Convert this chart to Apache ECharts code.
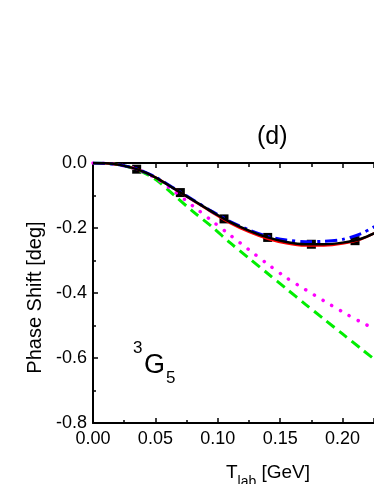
<!DOCTYPE html>
<html>
<head>
<meta charset="utf-8">
<script src="https://cdn.jsdelivr.net/npm/echarts@6/dist/echarts.min.js"></script>
<style>
  html, body { margin: 0; padding: 0; background: #fff; }
  #main { width: 374px; height: 484px; }
</style>
</head>
<body>
<div id="main"></div>
<script>
// energies [GeV] shared by the curves
var tlab = [0, 0.01, 0.02, 0.035, 0.05, 0.065, 0.08, 0.095, 0.11, 0.125, 0.14, 0.155, 0.17, 0.185, 0.2, 0.215, 0.23];

var black   = [0, -0.001, -0.005, -0.019, -0.044, -0.079, -0.114, -0.149, -0.182, -0.208, -0.229, -0.243, -0.250, -0.250, -0.245, -0.233, -0.208];
var red     = [0, -0.001, -0.005, -0.019, -0.044, -0.079, -0.115, -0.151, -0.185, -0.212, -0.233, -0.247, -0.254, -0.254, -0.248, -0.234, -0.207];
var blue    = [0, -0.001, -0.005, -0.018, -0.043, -0.078, -0.113, -0.148, -0.180, -0.206, -0.226, -0.237, -0.242, -0.241, -0.235, -0.217, -0.186];
var magenta = [0, -0.001, -0.005, -0.019, -0.046, -0.087, -0.132, -0.177, -0.222, -0.267, -0.311, -0.353, -0.389, -0.424, -0.458, -0.490, -0.518];
var green   = [0, -0.001, -0.005, -0.020, -0.050, -0.099, -0.149, -0.195, -0.246, -0.293, -0.340, -0.387, -0.434, -0.480, -0.526, -0.572, -0.618];

// square markers (PWA points)
var markT = [0.035, 0.07, 0.105, 0.14, 0.175, 0.21];
var markV = [-0.019, -0.091, -0.172, -0.229, -0.250, -0.239];

var xTicks = [0, 0.05, 0.1, 0.15, 0.2];
var yTicks = [0, -0.2, -0.4, -0.6, -0.8];

function pairs(xs, ys) {
    return xs.map(function (x, i) { return [x, ys[i]]; });
}

var font = 'Liberation Sans, Arial, sans-serif';
var axisLine = { show: true, onZero: false, lineStyle: { color: '#000', width: 2 } };
var tick = { inside: true, length: 5, lineStyle: { color: '#000', width: 1.5 } };

var myChart = echarts.init(document.getElementById('main'));

var option = {
    animation: false,
    backgroundColor: '#fff',
    title: {
        text: '(d)',
        left: 252,
        top: 120,
        textStyle: { fontFamily: font, fontSize: 25, fontWeight: 'normal', color: '#000' }
    },
    grid: { left: 93, top: 163, right: 0, bottom: 61, containLabel: false, outerBoundsMode: 'none' },
    xAxis: [{
        type: 'value',
        position: 'bottom',
        min: 0,
        max: 0.2252,
        interval: 0.05,
        axisLine: axisLine,
        axisTick: tick,
        minorTick: { show: true, splitNumber: 2, length: 3, lineStyle: { color: '#000', width: 1.5 } },
        splitLine: { show: false },
        axisLabel: {
            showMaxLabel: false,
            margin: 7,
            fontFamily: font, fontSize: 18, color: '#000',
            formatter: function (v) { return xTicks.indexOf(+v.toFixed(3)) >= 0 ? v.toFixed(2) : ''; }
        },
        name: '{n|T}{s|lab}{n| [GeV]}',
        nameLocation: 'middle',
        nameGap: 40,
        nameTextStyle: {
            padding: [0, 0, 0, 69],
            rich: {
                n: { fontFamily: font, fontSize: 19, color: '#000', lineHeight: 26, verticalAlign: 'top' },
                s: { fontFamily: font, fontSize: 14, color: '#000', lineHeight: 26, verticalAlign: 'bottom', padding: [10, 0, 0, 0] }
            }
        }
    }, {
        type: 'value',
        position: 'top',
        min: 0,
        max: 0.2252,
        interval: 0.05,
        axisLine: axisLine,
        axisTick: tick,
        minorTick: { show: true, splitNumber: 2, length: 4, lineStyle: { color: '#000', width: 1.5 } },
        splitLine: { show: false },
        axisLabel: { show: false }
    }],
    yAxis: {
        type: 'value',
        min: -0.8,
        max: 0,
        interval: 0.2,
        axisLine: axisLine,
        axisTick: tick,
        minorTick: { show: true, splitNumber: 2, length: 3, lineStyle: { color: '#000', width: 1.5 } },
        splitLine: { show: false },
        axisLabel: {
            margin: 6,
            fontFamily: font, fontSize: 18, color: '#000',
            formatter: function (v) { return v.toFixed(1); }
        },
        name: 'Phase Shift [deg]',
        nameLocation: 'middle',
        nameGap: 48,
        nameTextStyle: { fontFamily: font, fontSize: 20, color: '#000', padding: [0, 9, 0, 0] }
    },
    // 3G5 partial-wave label
    graphic: [
        { type: 'text', left: 133, top: 340, style: { text: '3', fontFamily: font, fontSize: 17, fill: '#000' } },
        { type: 'text', left: 144, top: 352, style: { text: 'G', fontFamily: font, fontSize: 27, fill: '#000' } },
        { type: 'text', left: 166, top: 370, style: { text: '5', fontFamily: font, fontSize: 17, fill: '#000' } }
    ],
    series: [{
        type: 'line',
        data: pairs(tlab, green),
        smooth: 0.3,
        showSymbol: false,
        lineStyle: { color: '#00ee00', width: 3, type: [10, 6] }
    }, {
        type: 'line',
        data: pairs(tlab, magenta),
        smooth: 0.3,
        showSymbol: false,
        lineStyle: { color: '#ff00ff', width: 3.5, type: [0.1, 10], cap: 'round' }
    }, {
        type: 'line',
        data: pairs(tlab, red),
        smooth: 0.3,
        showSymbol: false,
        lineStyle: { color: '#ff0000', width: 2.5 }
    }, {
        type: 'line',
        data: pairs(tlab, blue),
        smooth: 0.3,
        showSymbol: false,
        lineStyle: { color: '#0000ff', width: 3, type: [12, 5, 3, 5] }
    }, {
        type: 'line',
        data: pairs(tlab, black),
        smooth: 0.3,
        showSymbol: false,
        lineStyle: { color: '#000', width: 2.5 }
    }, {
        type: 'scatter',
        data: pairs(markT, markV),
        symbol: 'rect',
        symbolSize: 9,
        itemStyle: { color: '#000', opacity: 1 }
    }]
};

myChart.setOption(option);
</script>
</body>
</html>
